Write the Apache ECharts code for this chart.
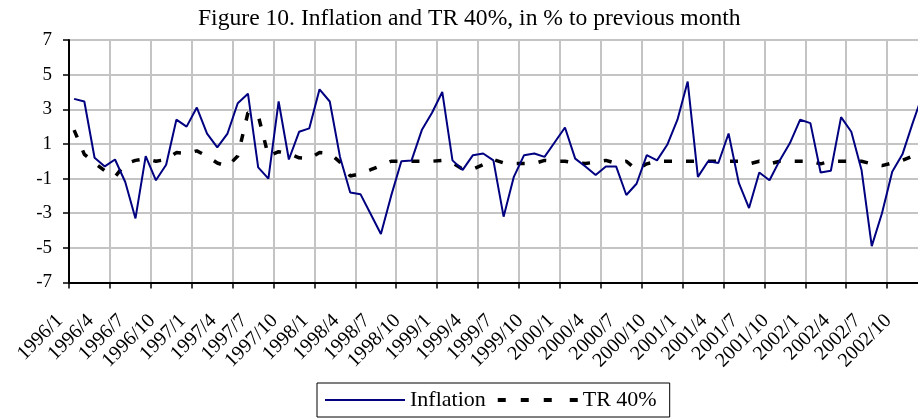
<!DOCTYPE html>
<html>
<head>
<meta charset="utf-8">
<script src="https://cdn.jsdelivr.net/npm/echarts@6/dist/echarts.min.js"></script>
<style>
html,body{margin:0;padding:0;background:#fff;}
#chart{width:918px;height:419px;}
</style>
</head>
<body>
<div id="chart"></div>
<script>
const titleText = "Figure 10. Inflation and TR 40%, in % to previous month";

const categories = [
  "1996/1","1996/2","1996/3","1996/4","1996/5","1996/6","1996/7","1996/8","1996/9","1996/10","1996/11","1996/12",
  "1997/1","1997/2","1997/3","1997/4","1997/5","1997/6","1997/7","1997/8","1997/9","1997/10","1997/11","1997/12",
  "1998/1","1998/2","1998/3","1998/4","1998/5","1998/6","1998/7","1998/8","1998/9","1998/10","1998/11","1998/12",
  "1999/1","1999/2","1999/3","1999/4","1999/5","1999/6","1999/7","1999/8","1999/9","1999/10","1999/11","1999/12",
  "2000/1","2000/2","2000/3","2000/4","2000/5","2000/6","2000/7","2000/8","2000/9","2000/10","2000/11","2000/12",
  "2001/1","2001/2","2001/3","2001/4","2001/5","2001/6","2001/7","2001/8","2001/9","2001/10","2001/11","2001/12",
  "2002/1","2002/2","2002/3","2002/4","2002/5","2002/6","2002/7","2002/8","2002/9","2002/10","2002/11","2002/12"
];

const inflation = [
  3.6, 3.45, 0.2, -0.3, 0.1, -1.2, -3.3, 0.3, -1.1, -0.2, 2.4, 2.0,
  3.1, 1.6, 0.8, 1.6, 3.35, 3.9, -0.35, -1.0, 3.45, 0.1, 1.7, 1.9,
  4.15, 3.45, 0.25, -1.8, -1.9, -3.05, -4.2, -2.0, 0.0, 0.05, 1.8, 2.8,
  4.0, 0.05, -0.5, 0.35, 0.45, 0.05, -3.2, -0.9, 0.35, 0.45, 0.25, 1.1,
  1.95, 0.15, -0.3, -0.8, -0.3, -0.3, -1.95, -1.3, 0.35, 0.05, 0.95, 2.4,
  4.6, -0.9, 0.0, -0.1, 1.6, -1.25, -2.7, -0.65, -1.1, 0.05, 1.05, 2.4,
  2.2, -0.65, -0.55, 2.55, 1.7, -0.5, -4.9, -3.0, -0.6, 0.4, 2.2, 3.9
];

const tr40 = [
  1.8, 0.4, -0.1, -0.55, -0.9, -0.15, 0.05, 0.15, 0.0, 0.1, 0.5, 0.45,
  0.6, 0.3, -0.1, -0.3, 0.3, 2.8, 2.65, 0.3, 0.55, 0.45, 0.2, 0.15,
  0.5, 0.45, -0.05, -0.85, -0.72, -0.49, -0.25, 0.0, 0.0, 0.0, 0.0, 0.0,
  0.05, -0.1, -0.45, -0.45, -0.2, 0.1, -0.1, -0.13, -0.13, -0.13, 0.05, 0.0,
  0.0, -0.1, -0.13, -0.05, 0.05, -0.12, 0.0, -0.5, -0.15, 0.0, 0.0, 0.0,
  0.0, 0.0, 0.0, 0.0, 0.0, 0.0, -0.15, 0.0, -0.15, 0.0, 0.0, 0.0,
  0.0, -0.15, 0.0, 0.0, 0.0, 0.0, -0.15, -0.25, -0.1, 0.05, 0.3, 0.1
];

const seriesNames = ["Inflation", "TR 40%"];
const yMin = -7, yMax = 7, yStep = 2;

const FONT = "'Liberation Serif', 'Times New Roman', serif";
const chart = echarts.init(document.getElementById('chart'), null, {renderer: 'canvas'});
chart.setOption({
  animation: false,
  backgroundColor: '#ffffff',
  title: {
    text: titleText,
    left: 198,
    top: 7,
    padding: 0,
    textStyle: {fontFamily: FONT, fontSize: 23.6, fontWeight: 'normal', color: '#000'}
  },
  legend: {
    data: [
      {name: seriesNames[0], icon: 'path://M0,0H80V2H0Z'},
      {name: seriesNames[1], icon: 'path://M0,0H8V4H0Z M23,0H31V4H23Z M46,0H54V4H46Z M72,0H80V4H72Z'}
    ],
    left: 317,
    top: 383,
    orient: 'horizontal',
    padding: [6, 13, 6, 8],
    itemGap: 12,
    itemWidth: 80,
    itemHeight: 14,
    borderColor: '#000',
    borderWidth: 1,
    backgroundColor: '#fff',
    textStyle: {fontFamily: FONT, fontSize: 22, color: '#000'}
  },
  grid: {left: 69, top: 40, width: 859, height: 242.5, containLabel: false, outerBoundsMode: 'none'},
  xAxis: {
    type: 'category',
    data: categories,
    boundaryGap: true,
    axisLine: {onZero: false, lineStyle: {color: '#000', width: 2}},
    axisTick: {show: true, interval: 3, length: 6, inside: false, lineStyle: {color: '#000', width: 1.5}},
    splitLine: {show: true, interval: 3, lineStyle: {color: '#c4c4c4', width: 2}},
    axisLabel: {
      interval: 2,
      rotate: 45,
      margin: 21,
      padding: [0, 20, 0, 0],
      fontFamily: FONT,
      fontSize: 20,
      color: '#000'
    }
  },
  yAxis: {
    type: 'value',
    min: yMin,
    max: yMax,
    interval: yStep,
    axisLine: {show: true, lineStyle: {color: '#000', width: 2}},
    axisTick: {show: true, length: 6, inside: false, lineStyle: {color: '#000', width: 1.5}},
    splitLine: {show: true, lineStyle: {color: '#c4c4c4', width: 2}},
    axisLabel: {margin: 17, fontFamily: FONT, fontSize: 19, color: '#000'}
  },
  series: [
    {
      name: seriesNames[0],
      type: 'line',
      data: inflation,
      symbol: 'none',
      smooth: false,
      lineStyle: {color: '#000080', width: 2},
      itemStyle: {color: '#000080'},
      z: 3
    },
    {
      name: seriesNames[1],
      type: 'line',
      data: tr40,
      symbol: 'none',
      smooth: false,
      lineStyle: {color: '#000', width: 3.5, type: [8, 14]},
      itemStyle: {color: '#000'},
      z: 2
    }
  ]
});
</script>
</body>
</html>
